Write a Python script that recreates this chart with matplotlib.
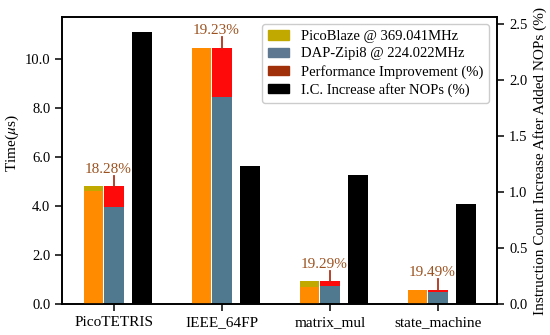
import matplotlib.pyplot as plt
import numpy as np
from matplotlib.patches import Patch

plt.rcParams['font.family'] = ['Liberation Serif', 'DejaVu Serif']
plt.rcParams['mathtext.fontset'] = 'stix'

benchmarks = ['PicoTETRIS', 'IEEE_64FP', 'matrix_mul', 'state_machine']
picoblaze = [4.82, 10.45, 0.93, 0.58]
picoblaze_fill = [4.62, 10.45, 0.68, 0.57]
dapzipi8 = [3.94, 8.44, 0.75, 0.47]
improvement = ['18.28%', '19.23%', '19.29%', '19.49%']
ic_increase = [2.43, 1.23, 1.15, 0.89]

x = np.arange(len(benchmarks))
w = 0.18

fig = plt.figure(figsize=(5.5, 3.35), dpi=100)
ax = fig.add_subplot(111)
fig.subplots_adjust(left=0.113, right=0.904, bottom=0.0925, top=0.949)
ax2 = ax.twinx()

ax.bar(x - 0.19, picoblaze, w, color='#c2a900', zorder=2)
ax.bar(x - 0.19, picoblaze_fill, w, color='#ff8c00', zorder=3)
ax.bar(x, dapzipi8, w, color='#50798f', zorder=2)
ax.bar(x, np.array(picoblaze) - np.array(dapzipi8), w, bottom=dapzipi8,
       color='#ff0a0a', zorder=2)
for i in range(len(x)):
    ax.plot([x[i], x[i]], [picoblaze[i], picoblaze[i] + 0.42],
            color='#b0341a', lw=1.3, zorder=4)
    ax.text(x[i] - 0.05, picoblaze[i] + 0.42, improvement[i], ha='center',
            va='bottom', fontsize=11, color='#9c5220')

ax2.bar(x + 0.26, ic_increase, w, color='black', zorder=2)

ax.set_xlim(-0.48, 3.55)
ax.set_ylim(0, 11.7)
ax2.set_ylim(0, 2.56)
ax.set_xticks(x)
ax.set_xticklabels(benchmarks, fontsize=11)
ax.set_yticks(np.arange(0, 11, 2.0))
ax.set_yticklabels(['%.1f' % v for v in np.arange(0, 11, 2.0)], fontsize=10.5)
ax2.set_yticks(np.arange(0, 2.6, 0.5))
ax2.set_yticklabels(['%.1f' % v for v in np.arange(0, 2.6, 0.5)], fontsize=10.5)
ax.set_ylabel(r'Time($\mu$s)', fontsize=11)
ax.yaxis.set_label_coords(-0.095, 0.56)
ax2.set_ylabel('Instruction Count Increase After Added NOPs (%)', fontsize=11)

for a in (ax, ax2):
    a.tick_params(direction='out', length=5, width=1.1)
    for s in a.spines.values():
        s.set_linewidth(1.2)

handles = [Patch(color='#c2a900'), Patch(color='#5d7890'),
           Patch(color='#a0300a'), Patch(color='black')]
labels = ['PicoBlaze @ 369.041MHz', 'DAP-Zipi8 @ 224.022MHz',
          'Performance Improvement (%)', 'I.C. Increase after NOPs (%)']
ax2.legend(handles, labels, loc='upper right', bbox_to_anchor=(0.982, 0.975),
           borderaxespad=0, fontsize=10.5, labelspacing=0.3,
           handlelength=1.5, handleheight=0.6, framealpha=1)

fig.savefig('out.png')
